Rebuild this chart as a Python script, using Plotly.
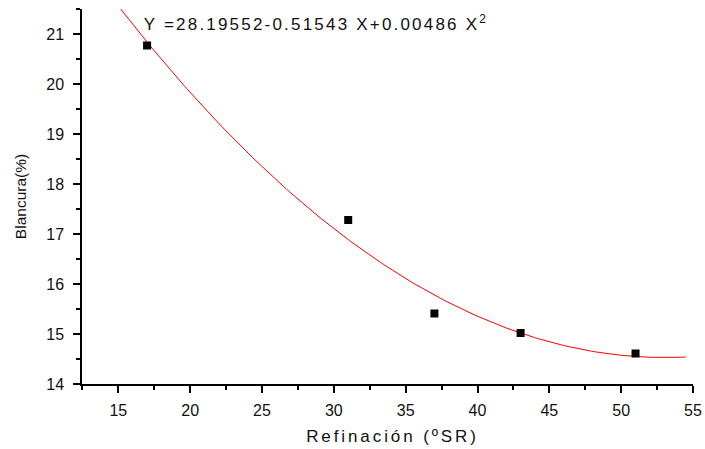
import numpy as np
import plotly.graph_objects as go

# Measured data (Refinación ºSR vs Blancura %)
refinacion = [17, 31, 37, 43, 51]
blancura = [20.77, 17.28, 15.41, 15.02, 14.61]

# Polynomial fit coefficients as printed on the chart
coef_a = 28.19552
coef_b = -0.51543
coef_c = 0.00486
fit_x_start = 15.0
fit_x_end = 54.5

x_ticks = [15, 20, 25, 30, 35, 40, 45, 50, 55]
y_ticks = [14, 15, 16, 17, 18, 19, 20, 21]

fit_x = np.linspace(fit_x_start, fit_x_end, 200)
fit_y = coef_a + coef_b * fit_x + coef_c * fit_x ** 2

FONT = "Liberation Sans, Arial, sans-serif"

fig = go.Figure()
fig.add_trace(go.Scatter(
    x=fit_x, y=fit_y, mode="lines",
    line=dict(color="#ff0000", width=1),
    hoverinfo="skip", showlegend=False,
))
fig.add_trace(go.Scatter(
    x=refinacion, y=blancura, mode="markers",
    marker=dict(symbol="square", size=8, color="black", line=dict(width=0)),
    showlegend=False,
))

axis_common = dict(
    showline=True, linecolor="black", linewidth=1.5,
    ticks="outside", ticklen=7, tickwidth=1.5, tickcolor="black",
    showgrid=False, zeroline=False,
    tickfont=dict(family=FONT, size=16, color="#111111"),
    mirror=False,
)

fig.update_xaxes(
    range=[12.47, 55], tickvals=x_ticks,
    minor=dict(dtick=2.5, tick0=0, ticklen=4, tickwidth=1.5, tickcolor="black", ticks="outside"),
    title=dict(text="Refinación (ºSR)", font=dict(family=FONT, size=17, color="#111111"), standoff=12),
    ticklabelstandoff=4,
    **axis_common,
)
fig.update_yaxes(
    range=[14, 21.5], tickvals=y_ticks,
    minor=dict(dtick=0.5, tick0=0, ticklen=4, tickwidth=1.5, tickcolor="black", ticks="outside"),
    title=dict(text="Blancura(%)", font=dict(family=FONT, size=15.5, color="#111111"), standoff=16),
    ticklabelstandoff=6,
    **axis_common,
)

fig.add_annotation(
    x=19.07, y=21.23, xref="x", yref="y", xanchor="left", yanchor="middle",
    text="Y =28.19552-0.51543 X+0.00486 X<sup>2</sup>",
    showarrow=False, font=dict(family=FONT, size=17, color="#111111"),
)

fig.update_layout(
    width=705, height=449,
    margin=dict(l=82, r=12, t=9, b=65, autoexpand=False),
    paper_bgcolor="white", plot_bgcolor="white",
)

post = """
document.body.style.margin='0';
document.body.style.padding='0';
var gd = document.getElementById('{plot_id}');
function sp(){
  gd.querySelectorAll('.xtitle').forEach(function(e){e.style.letterSpacing='2.9px'; e.style.transform='translate(5px,0px)';});
  gd.querySelectorAll('.annotation-text').forEach(function(e){e.style.letterSpacing='2.2px';});
}
sp();
gd.on('plotly_afterplot', sp);
"""
fig.write_html("out.html", post_script=post, config={"displayModeBar": False})
